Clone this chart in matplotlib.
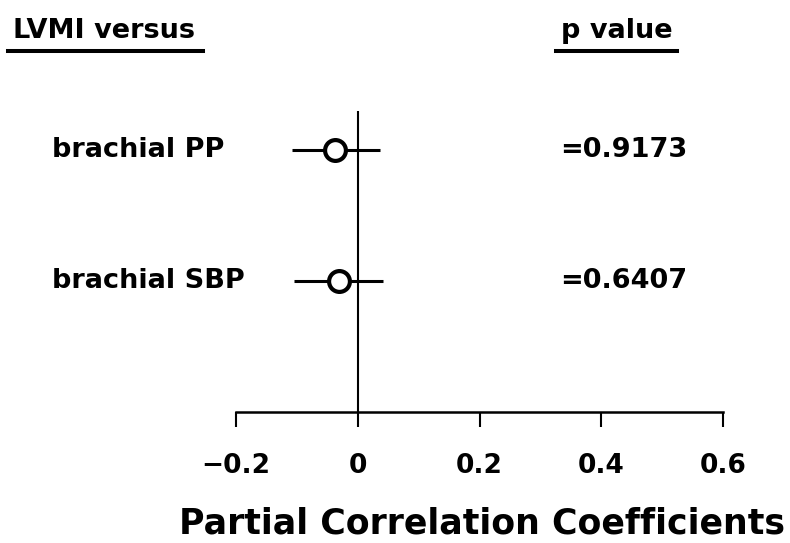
import matplotlib
matplotlib.use('Agg')
import matplotlib.pyplot as plt
from matplotlib.lines import Line2D

# partial correlation of LVMI with brachial pressures
labels = ['brachial PP', 'brachial SBP']
estimates = [-0.037, -0.030]
ci_low = [-0.108, -0.104]
ci_high = [0.037, 0.042]
p_values = ['=0.9173', '=0.6407']
xticks = [-0.2, 0, 0.2, 0.4, 0.6]
xticklabels = ['\u22120.2', '0', '0.2', '0.4', '0.6']

W, H = 790, 543
plt.rcParams['font.family'] = 'DejaVu Sans'
plt.rcParams['font.weight'] = 'bold'

fig = plt.figure(figsize=(W / 100, H / 100), dpi=100)
ax = fig.add_axes([236 / W, 1 - 412 / H, 487 / W, 301 / H])

rows = [2, 1]
ax.axvline(0, color='black', lw=1.5, zorder=1)
ax.hlines(rows, ci_low, ci_high, color='black', lw=2.2, zorder=2)
ax.plot(estimates, rows, 'o', ms=15, mfc='white', mec='black', mew=3, zorder=3)

for y, lab, p in zip(rows, labels, p_values):
    ax.text(-0.503, y, lab, fontsize=19.5, va='center', ha='left', clip_on=False)
    ax.text(0.332, y, p, fontsize=19.5, va='center', ha='left', clip_on=False)

ax.set_xlim(-0.2, 0.6)
ax.set_ylim(0, 2.3)
for side in ['top', 'right', 'left']:
    ax.spines[side].set_visible(False)
ax.spines['bottom'].set_linewidth(1.8)
ax.set_yticks([])
ax.set_xticks(xticks)
ax.set_xticklabels(xticklabels, fontsize=19)
ax.tick_params(axis='x', direction='out', length=10.5, width=1.5, pad=19)

# column headers with underlines
fig.text(13 / W, 1 - 38 / H, 'LVMI versus', fontsize=19.5, va='baseline', ha='left')
fig.text(561 / W, 1 - 38 / H, 'p value', fontsize=19.5, va='baseline', ha='left')
fig.add_artist(Line2D([8 / W, 203 / W], [1 - 51 / H] * 2, color='black', lw=2.9))
fig.add_artist(Line2D([556 / W, 677 / W], [1 - 51 / H] * 2, color='black', lw=2.9))

fig.text(482 / W, 1 - 534 / H, 'Partial Correlation Coefficients', fontsize=25,
         va='baseline', ha='center')

fig.savefig('out.png', dpi=100)
